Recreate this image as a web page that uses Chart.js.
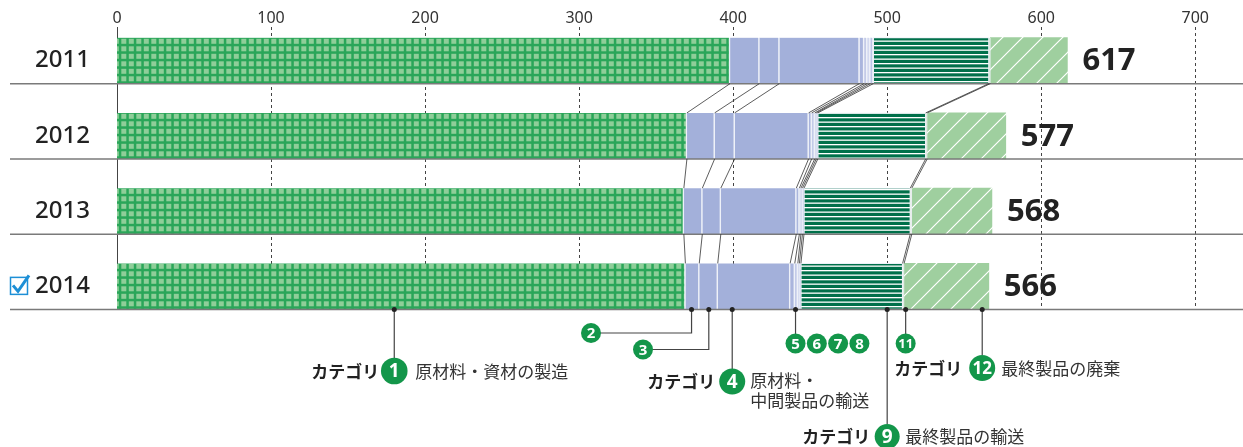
<!DOCTYPE html>
<html>
<head>
<meta charset="utf-8">
<script src="https://cdn.jsdelivr.net/npm/chart.js@4.4.0/dist/chart.umd.min.js"></script>
<style>
  html, body { margin: 0; padding: 0; background: #fff; }
  #wrap { width: 1243px; height: 447px; position: relative; }
</style>
</head>
<body>
<div id="wrap"><canvas id="chart"></canvas></div>
<script>
// --- data ---
var years = ["2011", "2012", "2013", "2014"];
var totals = [617, 577, 568, 566];
var xTicks = [0, 100, 200, 300, 400, 500, 600, 700];

var cat1 = [398, 370, 368, 369];
var cat2 = [19, 18, 12, 9];
var cat3 = [13, 13, 12, 12];
var cat4 = [52, 48, 49, 47];
var cat5 = [3, 2, 2, 3];
var cat6 = [2, 2, 1, 2];
var cat7 = [2, 1, 1, 1];
var cat8 = [2, 1, 1, 1];
var cat9 = [75, 70, 69, 66];
var cat11 = [1, 1, 1, 1];
var cat12 = [50, 51, 52, 55];

var JP = '"Noto Sans CJK JP", "Noto Sans", sans-serif';
Chart.defaults.font.family = '"Noto Sans", "Noto Sans CJK JP", sans-serif';

// -----------------------------------------------------------------------
// fill patterns
// -----------------------------------------------------------------------
function makePattern(w, h, draw) {
    var c = document.createElement("canvas");
    c.width = w;
    c.height = h;
    var g = c.getContext("2d");
    draw(g, w, h);
    return g.createPattern(c, "repeat");
}

var gridGreen = makePattern(15, 15, function (g) {
    g.fillStyle = "#2aa659";
    g.fillRect(0, 0, 15, 15);
    g.fillStyle = "#8fce99";
    [1.3, 8.8].forEach(function (x) {
        [1.3, 8.8].forEach(function (y) {
            g.fillRect(x, y, 5, 5);
        });
    });
});

var stripesDark = makePattern(10, 9, function (g) {
    g.fillStyle = "#00704a";
    g.fillRect(0, 0, 10, 9);
    g.fillStyle = "#ffffff";
    g.fillRect(0, 0, 10, 1.3);
    g.fillRect(0, 4.5, 10, 1.3);
});

var hatchLight = makePattern(20, 20, function (g) {
    g.fillStyle = "#9fcf9f";
    g.fillRect(0, 0, 20, 20);
    g.strokeStyle = "#ffffff";
    g.lineWidth = 1.2;
    g.beginPath();
    g.moveTo(-1, 21); g.lineTo(21, -1);
    g.moveTo(-1, 1); g.lineTo(1, -1);
    g.moveTo(19, 21); g.lineTo(21, 19);
    g.stroke();
});

function ds(label, data, bg, sides) {
    return {
        label: label,
        data: data,
        backgroundColor: bg,
        borderColor: "#eef1f8",
        borderWidth: sides === undefined ? { top: 0, bottom: 0, left: 0, right: 1.5 } : sides,
        borderSkipped: false,
        barThickness: 46,
        stack: "s"
    };
}

// -----------------------------------------------------------------------
// custom drawing: grid, row lines, connectors, totals, callouts
// -----------------------------------------------------------------------
function badge(ctx, x, y, r, txt, size) {
    ctx.fillStyle = "#13964a";
    ctx.beginPath();
    ctx.arc(x, y, r, 0, Math.PI * 2);
    ctx.fill();
    ctx.fillStyle = "#fff";
    ctx.font = "bold " + size + "px " + Chart.defaults.font.family;
    ctx.textAlign = "center";
    ctx.textBaseline = "middle";
    ctx.fillText(txt, x, y + 1);
}

function dot(ctx, x, y) {
    ctx.fillStyle = "#222";
    ctx.beginPath();
    ctx.arc(x, y, 2.5, 0, Math.PI * 2);
    ctx.fill();
}

function path(ctx, pts) {
    ctx.strokeStyle = "#444";
    ctx.lineWidth = 1.2;
    ctx.beginPath();
    ctx.moveTo(pts[0][0], pts[0][1]);
    for (var i = 1; i < pts.length; i++) ctx.lineTo(pts[i][0], pts[i][1]);
    ctx.stroke();
}

function label(ctx, txt, x, y, align, bold) {
    ctx.font = (bold ? "bold " : "") + "17px " + JP;
    ctx.fillStyle = bold ? "#222" : "#333";
    ctx.textAlign = align;
    ctx.textBaseline = "middle";
    ctx.fillText(txt, x, y);
}

var drawExtras = {
    id: "drawExtras",
    beforeDatasetsDraw: function (chart) {
        var ctx = chart.ctx;
        var xs = chart.scales.x;
        var first = chart.getDatasetMeta(0).data;
        var last = first[first.length - 1];
        var bottom = last.y + last.height / 2;
        ctx.save();
        xs.ticks.forEach(function (t) {
            var x = Math.round(xs.getPixelForValue(t.value)) + 0.5;
            ctx.strokeStyle = "#444";
            ctx.lineWidth = 1;
            ctx.setLineDash(t.value === 0 ? [] : [3, 3]);
            ctx.beginPath();
            ctx.moveTo(x, chart.chartArea.top + 4);
            ctx.lineTo(x, bottom);
            ctx.stroke();
        });
        ctx.restore();
    },
    afterDatasetsDraw: function (chart) {
        var ctx = chart.ctx;
        var xs = chart.scales.x;
        var n = chart.data.datasets.length;
        ctx.save();

        // row lines under each bar
        var rows = chart.getDatasetMeta(0).data;
        rows.forEach(function (el) {
            var y = el.y + el.height / 2;
            ctx.strokeStyle = "#7a7a7a";
            ctx.lineWidth = 1.5;
            ctx.beginPath();
            ctx.moveTo(10, y);
            ctx.lineTo(chart.width, y);
            ctx.stroke();
        });

        // connectors between segment boundaries of consecutive years
        ctx.strokeStyle = "#333";
        ctx.lineWidth = 0.8;
        for (var d = 0; d < n - 1; d++) {
            var els = chart.getDatasetMeta(d).data;
            for (var i = 0; i < els.length - 1; i++) {
                var a = els[i], b = els[i + 1];
                ctx.beginPath();
                ctx.moveTo(a.x, a.y + a.height / 2);
                ctx.lineTo(b.x, b.y - b.height / 2);
                ctx.stroke();
            }
        }

        // totals at the end of each bar
        var ends = chart.getDatasetMeta(n - 1).data;
        ends.forEach(function (el, i) {
            ctx.font = "bold 31px " + Chart.defaults.font.family;
            ctx.fillStyle = "#222";
            ctx.textAlign = "left";
            ctx.textBaseline = "middle";
            ctx.fillText(String(totals[i]), el.x + 15, el.y + 1);
        });

        // check box before the latest year
        var lastRow = rows[rows.length - 1];
        var cy = lastRow.y - 1;
        ctx.strokeStyle = "#1d8fd6";
        ctx.lineWidth = 1.5;
        ctx.strokeRect(10.5, cy - 8, 17, 17);
        ctx.lineWidth = 3;
        ctx.beginPath();
        ctx.moveTo(13, cy);
        ctx.lineTo(18, cy + 6);
        ctx.lineTo(29, cy - 10);
        ctx.stroke();

        // callouts below the 2014 bar
        var yb = lastRow.y + lastRow.height / 2;
        var px = function (v) { return xs.getPixelForValue(v); };

        var x1 = px(180);
        path(ctx, [[x1, yb], [x1, 358]]);
        dot(ctx, x1, yb);
        badge(ctx, x1, 371, 13.3, "1", 19);
        label(ctx, "カテゴリ", x1 - 15, 372, "right", true);
        label(ctx, "原材料・資材の製造", x1 + 21, 372, "left", false);

        var x2 = px(373);
        path(ctx, [[x2, yb], [x2, 333], [600, 333]]);
        dot(ctx, x2, yb);
        badge(ctx, 591, 333, 10, "2", 15);

        var x3 = px(384.2);
        path(ctx, [[x3, yb], [x3, 349.5], [652, 349.5]]);
        dot(ctx, x3, yb);
        badge(ctx, 643, 349.5, 10, "3", 15);

        var x4 = px(399.4);
        path(ctx, [[x4, yb], [x4, 369]]);
        dot(ctx, x4, yb);
        badge(ctx, x4, 381.5, 13, "4", 19);
        label(ctx, "カテゴリ", x4 - 17, 382, "right", true);
        label(ctx, "原材料・", x4 + 18, 381, "left", false);
        label(ctx, "中間製品の輸送", x4 + 18, 401, "left", false);

        var x5 = px(440.5);
        path(ctx, [[x5, yb], [x5, 334]]);
        dot(ctx, x5, yb);
        ["5", "6", "7", "8"].forEach(function (t, k) {
            badge(ctx, x5 + k * 21.3, 343.5, 10, t, 15);
        });

        var x9 = px(500);
        path(ctx, [[x9, yb], [x9, 424]]);
        dot(ctx, x9, yb);
        badge(ctx, x9, 436.5, 12.5, "9", 19);
        label(ctx, "カテゴリ", x9 - 17, 437, "right", true);
        label(ctx, "最終製品の輸送", x9 + 18, 437, "left", false);

        var x11 = px(512);
        path(ctx, [[x11, yb], [x11, 334]]);
        dot(ctx, x11, yb);
        badge(ctx, x11, 343.5, 10, "11", 13);

        var x12 = px(561.7);
        path(ctx, [[x12, yb], [x12, 355]]);
        dot(ctx, x12, yb);
        badge(ctx, x12, 368, 13, "12", 17);
        label(ctx, "カテゴリ", x12 - 20, 369, "right", true);
        label(ctx, "最終製品の廃棄", x12 + 19, 369, "left", false);

        ctx.restore();
    }
};

// -----------------------------------------------------------------------
// chart
// -----------------------------------------------------------------------
var chart = new Chart(document.getElementById("chart"), {
    type: "bar",
    data: {
        labels: years,
        datasets: [
            ds("カテゴリ1", cat1, gridGreen),
            ds("カテゴリ2", cat2, "#a3b0da"),
            ds("カテゴリ3", cat3, "#a3b0da"),
            ds("カテゴリ4", cat4, "#a3b0da"),
            ds("カテゴリ5", cat5, "#aab5dd"),
            ds("カテゴリ6", cat6, "#c3cbe8"),
            ds("カテゴリ7", cat7, "#d3d9ef"),
            ds("カテゴリ8", cat8, "#bcc5e6"),
            ds("カテゴリ9", cat9, stripesDark, 1),
            ds("カテゴリ11", cat11, "#dde8dd"),
            ds("カテゴリ12", cat12, hatchLight, 0)
        ]
    },
    options: {
        indexAxis: "y",
        responsive: true,
        maintainAspectRatio: false,
        animation: false,
        layout: { padding: { left: 0, right: 0, top: 0, bottom: 123 } },
        plugins: {
            legend: { display: false },
            tooltip: { enabled: false }
        },
        scales: {
            x: {
                position: "top",
                stacked: true,
                min: 0,
                max: 731,
                afterBuildTicks: function (axis) {
                    axis.ticks = xTicks.map(function (v) { return { value: v }; });
                },
                afterFit: function (axis) { axis.height = 23; },
                grid: { display: false, drawTicks: false },
                border: { display: false },
                ticks: {
                    font: { size: 16 },
                    color: "#333",
                    padding: -5,
                    maxRotation: 0,
                    autoSkip: false
                }
            },
            y: {
                stacked: true,
                afterFit: function (axis) {
                    axis.width = 117;
                    axis.paddingTop = 0;
                    axis.paddingBottom = 0;
                },
                grid: { display: false, drawTicks: true, tickLength: 27 },
                border: { display: false },
                ticks: {
                    font: { size: 24, weight: "500" },
                    color: "#222",
                    padding: 0
                }
            }
        }
    },
    plugins: [drawExtras]
});
</script>
</body>
</html>
